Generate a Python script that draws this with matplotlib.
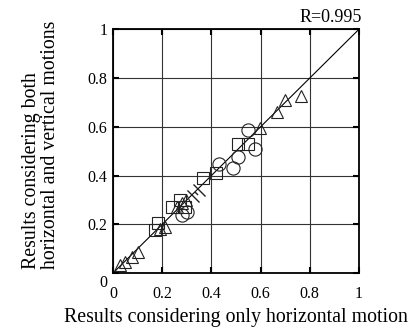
import matplotlib
matplotlib.use("Agg")
import matplotlib.pyplot as plt
import matplotlib.transforms as mtransforms
from matplotlib.path import Path

plt.rcParams['font.family'] = ['Liberation Serif', 'DejaVu Serif']

# data
tri_x = [0.028, 0.049, 0.076, 0.103, 0.191, 0.211, 0.259, 0.279, 0.298, 0.598, 0.665, 0.700, 0.764]
tri_y = [0.033, 0.046, 0.067, 0.087, 0.180, 0.190, 0.272, 0.286, 0.300, 0.595, 0.661, 0.712, 0.728]
sq_x = [0.171, 0.184, 0.239, 0.272, 0.293, 0.367, 0.420, 0.510, 0.550]
sq_y = [0.176, 0.204, 0.272, 0.300, 0.272, 0.388, 0.410, 0.530, 0.530]
ci_x = [0.279, 0.300, 0.430, 0.489, 0.510, 0.550, 0.577]
ci_y = [0.238, 0.250, 0.447, 0.430, 0.475, 0.586, 0.511]
sl_x = [0.337]
sl_y = [0.327]
ticks = [0, 0.2, 0.4, 0.6, 0.8, 1]
tick_labels = ['0', '0.2', '0.4', '0.6', '0.8', '1']
r_text = 'R=0.995'

fig = plt.figure(figsize=(4.14, 3.31), dpi=100)
ax = fig.add_axes([0.273, 0.175, 0.594, 0.7365])
ax.set_xlim(0, 1)
ax.set_ylim(0, 1)

ax.grid(True, color='#333333', linewidth=0.8)
ax.set_axisbelow(True)
ax.plot([0, 1], [0, 1], color='black', linewidth=0.8, zorder=3)

mk = dict(linestyle='none', markerfacecolor='none', markeredgecolor='#222222',
          markeredgewidth=0.8, zorder=4)
ax.plot(tri_x, tri_y, marker='^', markersize=9, **mk)
ax.plot(sq_x, sq_y, marker='s', markersize=8.5, **mk)
ax.plot(ci_x, ci_y, marker='o', markersize=9.5, **mk)

slash = Path([(-0.6, 0.2), (0.2, -0.6), (-0.2, 0.6), (0.6, -0.2), (-0.1, 0.1), (0.1, -0.1)],
             [Path.MOVETO, Path.LINETO, Path.MOVETO, Path.LINETO, Path.MOVETO, Path.LINETO])
ax.plot(sl_x, sl_y, marker=slash, markersize=13, linestyle='none',
        markeredgecolor='#222222', markeredgewidth=1.0, zorder=4)

ax.set_xticks(ticks)
ax.set_yticks(ticks)
ax.set_xticklabels(tick_labels)
ax.set_yticklabels(tick_labels)
ax.tick_params(direction='in', length=4, width=1.5, top=True, right=True,
               labelsize=11.5)
ax.tick_params(axis='x', pad=9.5)
ax.tick_params(axis='y', pad=4)
# shift the y "0" label down a little
for lab in ax.get_yticklabels():
    if lab.get_text() == '0':
        lab.set_transform(lab.get_transform() + mtransforms.ScaledTranslation(0, -6/72, fig.dpi_scale_trans))
for sp in ax.spines.values():
    sp.set_linewidth(1.3)

ax.set_xlabel('Results considering only horizontal motion', fontsize=14.3)
ax.xaxis.label.set_va('center')
ax.xaxis.set_label_coords(0.5, -0.184)
ax.set_ylabel('Results considering both\nhorizontal and vertical motions', fontsize=14.3,
              linespacing=1.0, multialignment='left')
ax.yaxis.label.set_va('center')
ax.yaxis.set_label_coords(-0.291, 0.527)
ax.text(1.012, 1.015, r_text, transform=ax.transAxes, ha='right', va='bottom', fontsize=13)

fig.savefig('out.png', dpi=100)
